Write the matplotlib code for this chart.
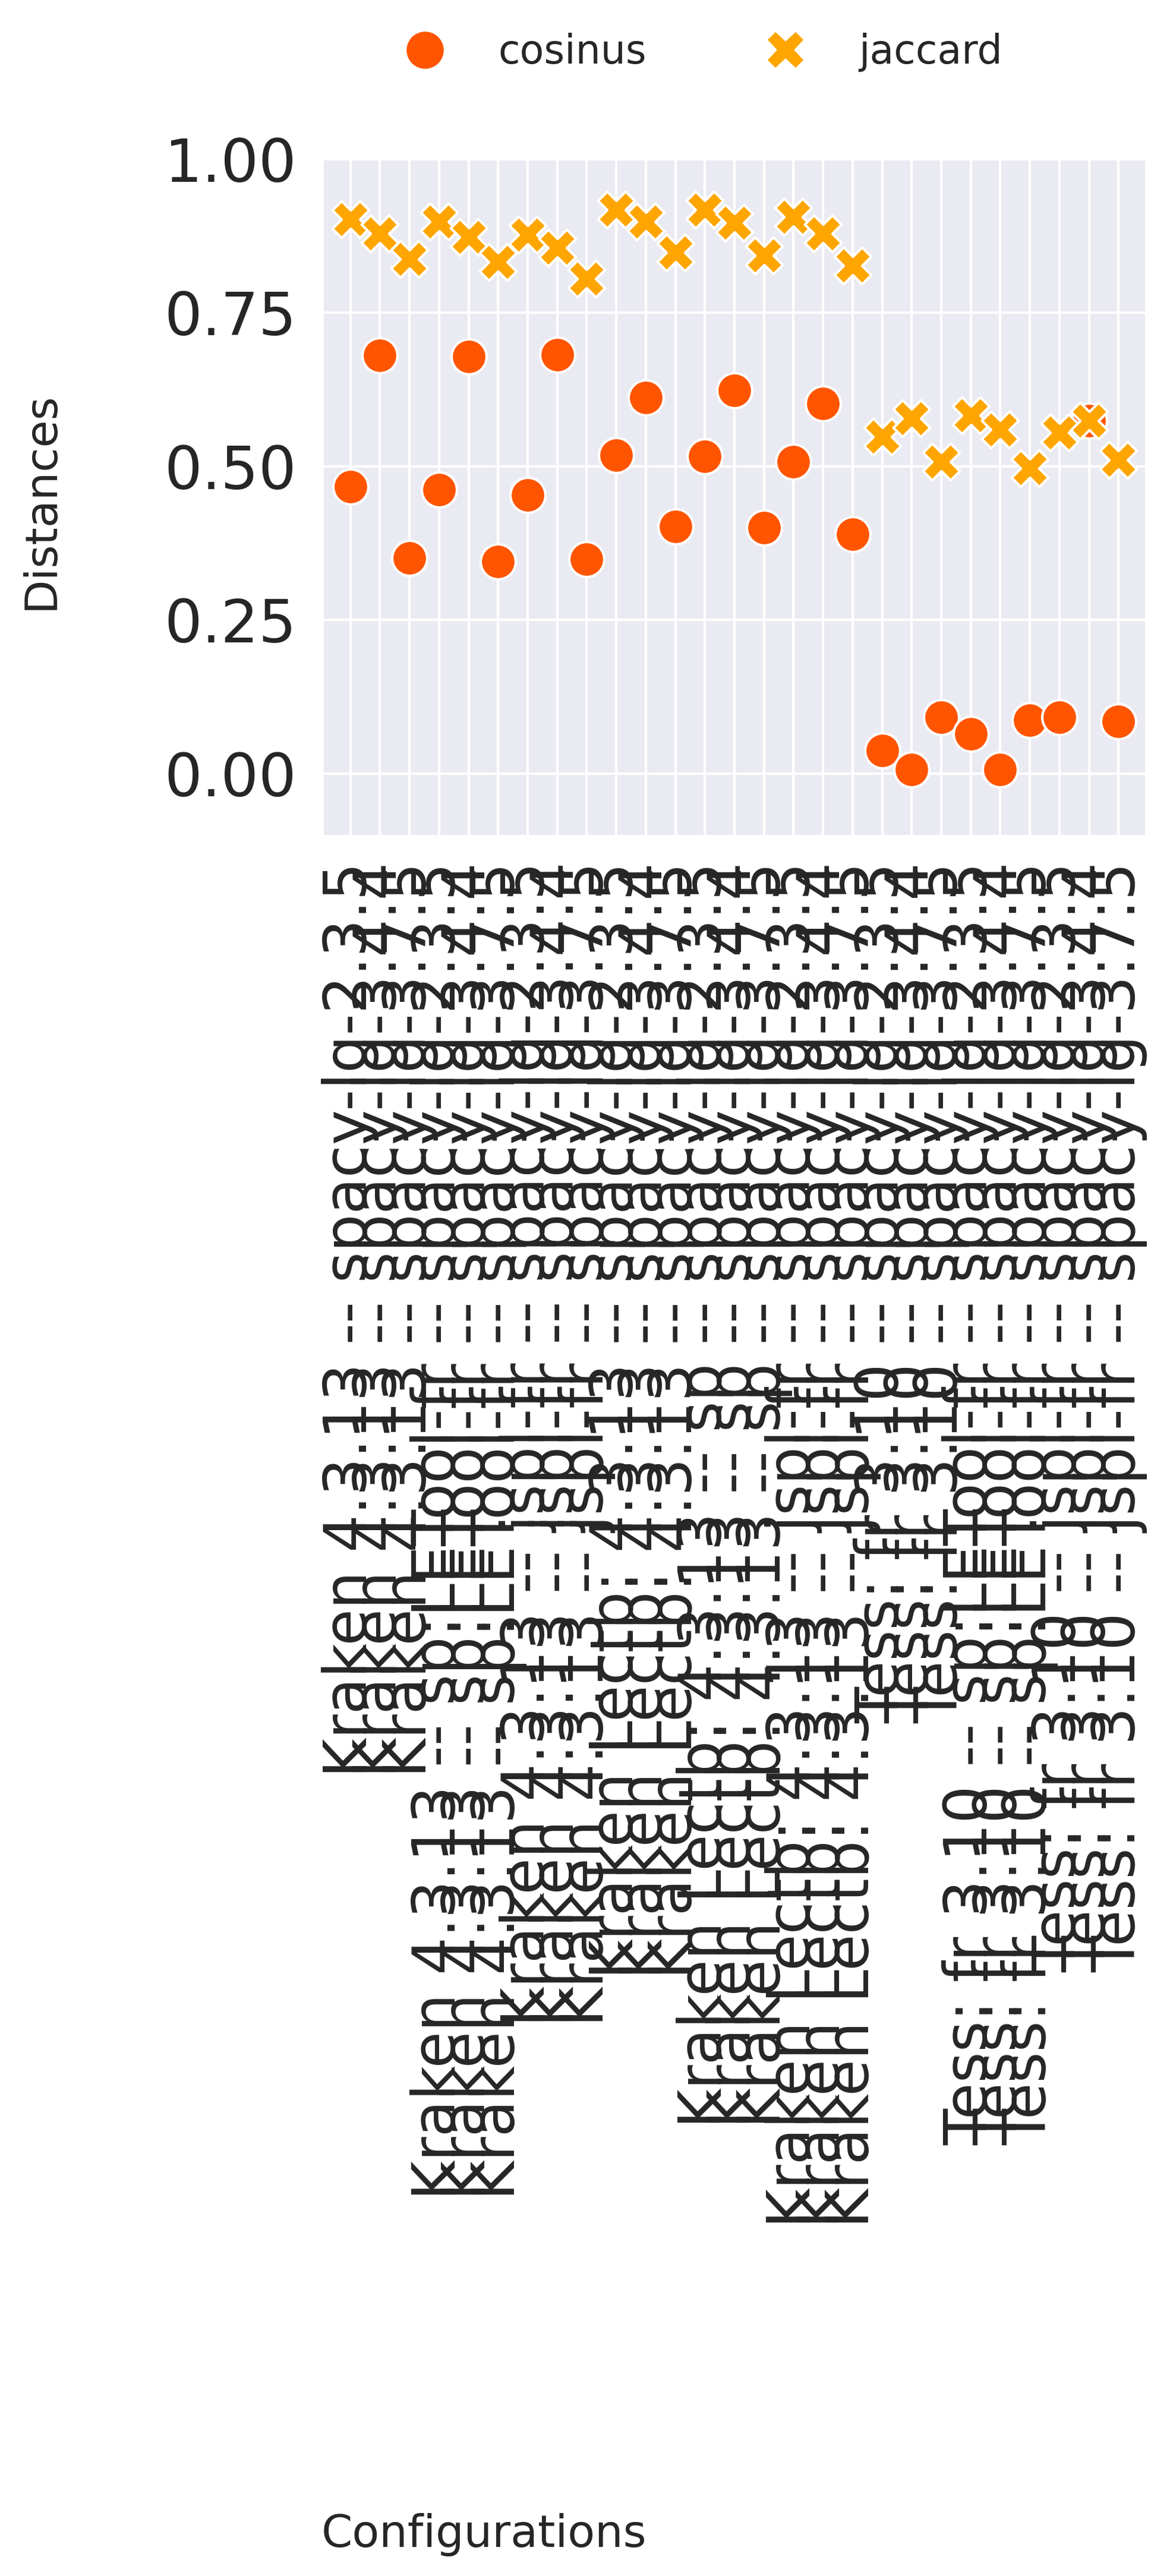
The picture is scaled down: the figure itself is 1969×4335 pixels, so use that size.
import matplotlib
matplotlib.use("Agg")
import matplotlib.pyplot as plt
from matplotlib.lines import Line2D

# ---- data ----
configs = [
    "Kraken 4.3.13",
    "Kraken 4.3.13 -- sp:LETool-fr",
    "Kraken 4.3.13 -- jspl-fr",
    "Kraken Lectb: 4.3.13",
    "Kraken Lectb: 4.3.13 -- sp",
    "Kraken Lectb: 4.3.13 -- jspl-fr",
    "Tess: fr 3.10",
    "Tess: fr 3.10 -- sp:LETool-fr",
    "Tess: fr 3.10 -- jspl-fr",
]
nlp_versions = ["spacy-lg-2.3.5", "spacy-lg-3.4.4", "spacy-lg-3.7.5"]
labels = [f"{c} -- {v}" for c in configs for v in nlp_versions]

cosinus = [0.467, 0.681, 0.351, 0.462, 0.679, 0.345, 0.453, 0.682, 0.349,
           0.518, 0.612, 0.402, 0.516, 0.624, 0.400, 0.508, 0.602, 0.390,
           0.037, 0.006, 0.092, 0.064, 0.006, 0.087, 0.092, 0.574, 0.085]
jaccard = [0.902, 0.879, 0.837, 0.898, 0.873, 0.833, 0.877, 0.856, 0.806,
           0.918, 0.898, 0.848, 0.918, 0.896, 0.843, 0.906, 0.879, 0.827,
           0.548, 0.578, 0.508, 0.583, 0.560, 0.497, 0.555, 0.574, 0.510]
yticks = [0.00, 0.25, 0.50, 0.75, 1.00]

# ---- style ----
TXT = "#262626"
plt.rcParams["font.family"] = ["DejaVu Sans"]
plt.rcParams["text.color"] = TXT
plt.rcParams["axes.labelcolor"] = TXT
plt.rcParams["xtick.color"] = TXT
plt.rcParams["ytick.color"] = TXT

W, H, DPI = 1969, 4335, 300
fig = plt.figure(figsize=(W / DPI, H / DPI), dpi=DPI)
ax = fig.add_axes([545 / W, 1 - 1405 / H, (1927 - 545) / W, (1405 - 268) / H])
ax.set_facecolor("#EAEAF2")
for s in ax.spines.values():
    s.set_visible(False)
ax.grid(True, color="white", linewidth=1.0)
ax.set_axisbelow(True)

c_cos = "#FF5500"
c_jac = "#FFA500"
ax.scatter(labels, cosinus, s=200, marker="o", color=c_cos,
           edgecolors="white", linewidths=1.0, zorder=3, label="cosinus")
ax.scatter(labels, jaccard, s=220, marker="X", color=c_jac,
           edgecolors="white", linewidths=1.0, zorder=4, label="jaccard")

ax.set_xlim(-0.9, len(labels) - 0.1)
ax.set_ylim(-0.1, 1.0)
ax.set_yticks(yticks)
ax.set_yticklabels([f"{v:.2f}" for v in yticks])
ax.tick_params(axis="both", length=0, pad=11, labelsize=24)
ax.tick_params(axis="x", labelrotation=90)

ax.set_ylabel("Distances", fontsize=18, va="center")
ax.yaxis.set_label_coords((69 - 545) / (1927 - 545), (1405 - 843) / (1405 - 268))
ax.set_xlabel("Configurations", fontsize=18, va="center")
ax.xaxis.set_label_coords((815 - 545) / (1927 - 545), (1405 - 4266) / (1405 - 268))

handles = [
    Line2D([], [], linestyle="none", marker="o", markersize=16,
           markerfacecolor=c_cos, markeredgecolor="white", markeredgewidth=1.0),
    Line2D([], [], linestyle="none", marker="X", markersize=16,
           markerfacecolor=c_jac, markeredgecolor="white", markeredgewidth=1.0),
]
fig.legend(handles, ["cosinus", "jaccard"], loc="center",
           bbox_to_anchor=(0.593, 1 - 88 / H), ncol=2, frameon=False,
           fontsize=16, columnspacing=2.5, handletextpad=0.85)

fig.savefig("out.png", dpi=DPI)
